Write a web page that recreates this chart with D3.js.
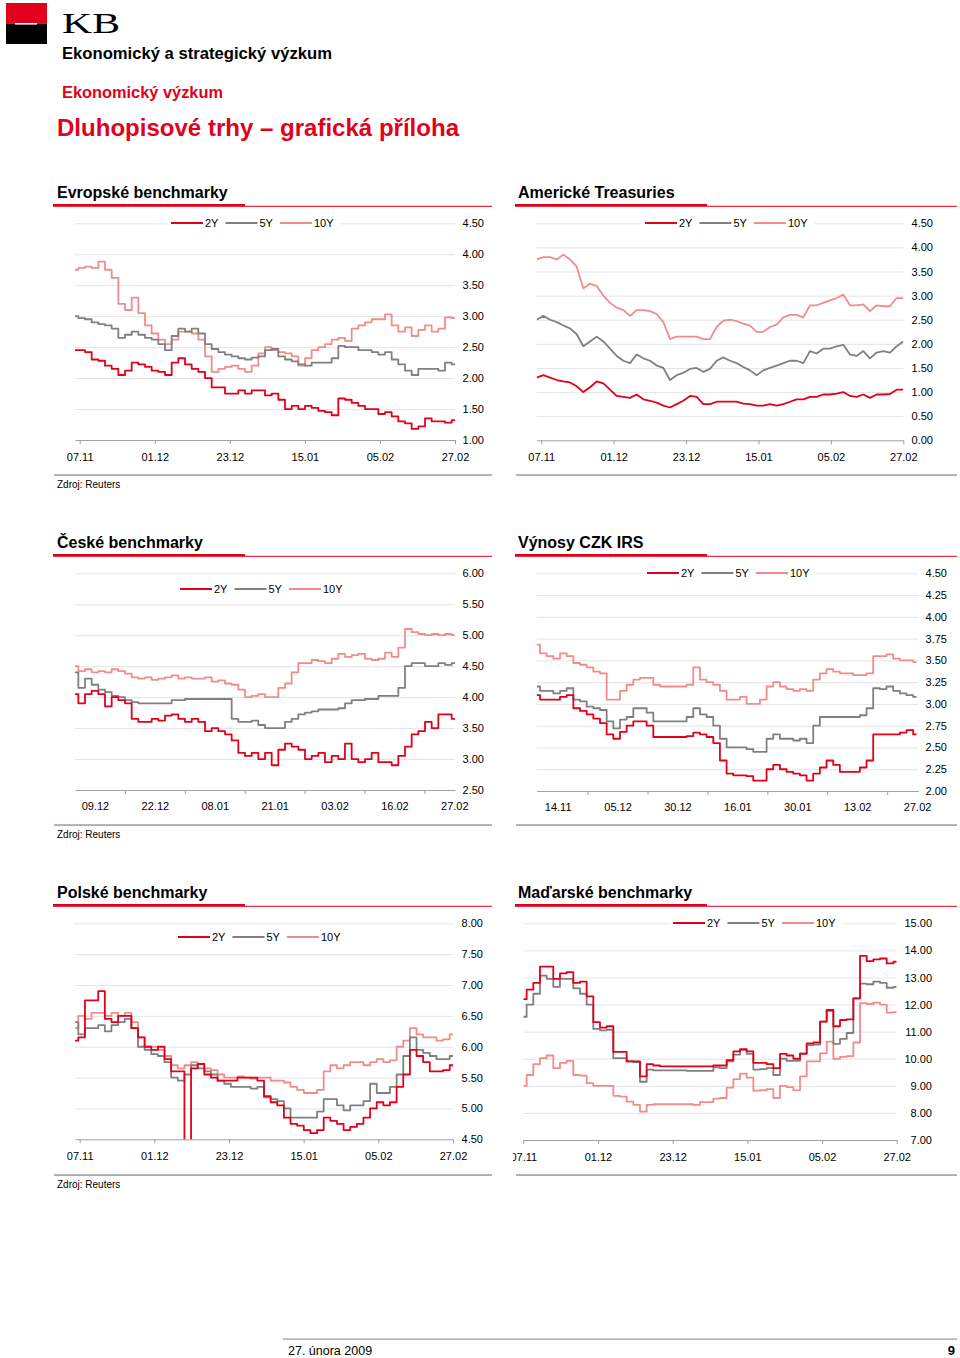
<!DOCTYPE html>
<html><head><meta charset="utf-8">
<script src="https://cdn.jsdelivr.net/npm/d3@7"></script>
<style>body{margin:0;background:#fff;} svg text{font-family:"Liberation Sans",Arial,Helvetica,sans-serif;}</style>
</head><body>
<svg id="page" width="960" height="1358"></svg>
<script>
// ---------- DATA ----------
const seriesNames = ["2Y","5Y","10Y"];
const dates1 = ["07.11","01.12","23.12","15.01","05.02","27.02"];
const datesCz = ["09.12","22.12","08.01","21.01","03.02","16.02","27.02"];
const datesIrs = ["14.11","05.12","30.12","16.01","30.01","13.02","27.02"];

const eurTicks = [1.0,1.5,2.0,2.5,3.0,3.5,4.0,4.5];
const eur2Y = [2.45,2.45,2.42,2.3,2.28,2.2,2.15,2.05,2.12,2.25,2.22,2.18,2.12,2.1,2.05,2.25,2.32,2.22,2.15,2.1,2.0,1.85,1.85,1.75,1.75,1.8,1.75,1.8,1.8,1.72,1.75,1.65,1.5,1.55,1.5,1.55,1.52,1.47,1.45,1.4,1.67,1.65,1.6,1.55,1.5,1.5,1.42,1.45,1.38,1.3,1.27,1.18,1.22,1.35,1.3,1.3,1.28,1.32];
const eur5Y = [3.0,2.97,2.95,2.9,2.87,2.85,2.8,2.65,2.7,2.75,2.7,2.65,2.62,2.55,2.45,2.68,2.8,2.75,2.8,2.72,2.55,2.47,2.42,2.38,2.35,2.32,2.3,2.33,2.35,2.45,2.47,2.35,2.3,2.27,2.22,2.2,2.25,2.25,2.25,2.32,2.52,2.5,2.5,2.45,2.45,2.42,2.38,2.42,2.3,2.22,2.12,2.05,2.15,2.15,2.15,2.12,2.25,2.22];
const eur10Y = [3.75,3.78,3.8,3.78,3.88,3.75,3.62,3.2,3.1,3.3,3.05,2.85,2.72,2.62,2.55,2.62,2.75,2.75,2.72,2.62,2.35,2.1,2.15,2.18,2.2,2.15,2.1,2.2,2.4,2.5,2.45,2.42,2.4,2.35,2.2,2.32,2.45,2.5,2.55,2.62,2.65,2.6,2.8,2.85,2.9,2.95,2.95,3.03,2.85,2.75,2.82,2.68,2.78,2.85,2.75,2.8,2.98,2.97];

const usTicks = [0,0.5,1.0,1.5,2.0,2.5,3.0,3.5,4.0,4.5];
const us2Y = [1.3,1.35,1.3,1.25,1.22,1.2,1.12,1.0,1.1,1.22,1.18,1.05,0.92,0.9,0.88,0.95,0.85,0.82,0.78,0.72,0.68,0.75,0.82,0.92,0.9,0.75,0.75,0.8,0.8,0.8,0.8,0.76,0.75,0.72,0.72,0.75,0.72,0.75,0.8,0.85,0.85,0.9,0.9,0.95,0.95,0.97,1.0,0.92,0.9,0.95,0.88,0.95,0.95,0.96,1.05,1.05];
const us5Y = [2.5,2.58,2.5,2.45,2.38,2.32,2.2,1.95,2.05,2.15,2.05,1.9,1.75,1.65,1.6,1.78,1.7,1.65,1.55,1.5,1.25,1.35,1.4,1.48,1.5,1.42,1.48,1.65,1.72,1.65,1.6,1.52,1.45,1.35,1.45,1.5,1.55,1.6,1.65,1.65,1.6,1.85,1.8,1.9,1.9,1.95,1.98,1.78,1.75,1.85,1.7,1.82,1.85,1.82,1.95,2.05];
const us10Y = [3.75,3.8,3.8,3.75,3.85,3.75,3.6,3.15,3.25,3.2,3.0,2.85,2.75,2.7,2.58,2.7,2.7,2.68,2.62,2.45,2.1,2.15,2.15,2.15,2.15,2.1,2.1,2.35,2.48,2.5,2.47,2.42,2.38,2.25,2.25,2.35,2.4,2.55,2.6,2.6,2.55,2.8,2.8,2.85,2.9,2.95,3.02,2.8,2.8,2.82,2.68,2.8,2.78,2.78,2.95,2.95];

const czTicks = [2.5,3.0,3.5,4.0,4.5,5.0,5.5,6.0];
const cz2Y = [4.05,3.9,4.05,4.1,4.05,3.85,4.0,3.95,3.9,3.65,3.6,3.6,3.65,3.62,3.7,3.72,3.65,3.6,3.65,3.6,3.45,3.5,3.45,3.4,3.3,3.1,3.05,3.1,3.0,3.1,2.9,3.15,3.25,3.2,3.15,3.0,3.05,3.1,2.95,3.05,3.0,3.25,3.0,2.95,3.0,3.1,2.95,2.95,2.9,3.05,3.2,3.4,3.45,3.6,3.5,3.72,3.72,3.65];
const cz5Y = [4.4,4.15,4.3,4.2,4.12,4.08,4.02,4.0,3.95,3.92,3.9,3.9,3.9,3.9,3.9,3.95,3.95,3.97,3.97,3.97,3.97,3.97,3.97,3.97,3.65,3.6,3.6,3.62,3.55,3.5,3.5,3.5,3.6,3.65,3.72,3.75,3.77,3.8,3.8,3.8,3.82,3.9,3.95,3.95,3.97,3.97,4.02,4.02,4.02,4.15,4.5,4.55,4.55,4.5,4.5,4.55,4.52,4.55];
const cz10Y = [4.5,4.42,4.45,4.4,4.42,4.4,4.45,4.42,4.38,4.32,4.3,4.32,4.28,4.3,4.32,4.35,4.3,4.32,4.3,4.3,4.32,4.25,4.27,4.22,4.2,4.12,4.0,4.02,4.05,4.0,4.0,4.15,4.22,4.4,4.55,4.55,4.6,4.58,4.55,4.62,4.7,4.65,4.68,4.7,4.62,4.6,4.62,4.72,4.65,4.8,5.1,5.05,5.02,5.0,5.02,5.0,5.02,5.0];

const irsTicks = [2.0,2.25,2.5,2.75,3.0,3.25,3.5,3.75,4.0,4.25,4.5];
const irs2Y = [3.1,3.05,3.05,3.05,3.08,3.1,2.95,2.92,2.88,2.83,2.78,2.65,2.6,2.68,2.75,2.8,2.8,2.75,2.62,2.62,2.62,2.62,2.62,2.63,2.67,2.65,2.62,2.55,2.35,2.2,2.18,2.18,2.17,2.12,2.12,2.25,2.3,2.25,2.22,2.2,2.18,2.12,2.2,2.27,2.35,2.3,2.22,2.22,2.22,2.27,2.35,2.65,2.65,2.65,2.65,2.67,2.7,2.65];
const irs5Y = [3.2,3.15,3.15,3.12,3.15,3.18,3.05,3.03,2.97,2.95,2.93,2.8,2.72,2.82,2.85,2.95,2.95,2.9,2.8,2.8,2.8,2.8,2.8,2.85,2.95,2.88,2.85,2.75,2.6,2.5,2.5,2.5,2.48,2.45,2.45,2.6,2.65,2.6,2.6,2.58,2.6,2.55,2.75,2.85,2.85,2.85,2.85,2.85,2.85,2.87,2.95,3.18,3.17,3.2,3.15,3.12,3.1,3.08];
const irs10Y = [3.68,3.58,3.55,3.52,3.58,3.55,3.47,3.45,3.42,3.37,3.35,3.05,3.05,3.15,3.22,3.28,3.3,3.3,3.22,3.2,3.2,3.2,3.2,3.22,3.42,3.28,3.25,3.22,3.15,3.05,3.05,3.08,3.0,3.0,3.05,3.2,3.25,3.2,3.17,3.15,3.17,3.15,3.28,3.35,3.4,3.37,3.35,3.35,3.33,3.33,3.35,3.55,3.55,3.57,3.52,3.5,3.5,3.48];

const plTicks = [4.5,5.0,5.5,6.0,6.5,7.0,7.5,8.0];
const pl2Y = [6.1,6.15,6.75,6.75,6.9,6.45,6.4,6.5,6.5,6.3,6.15,6.0,5.95,6.0,5.8,5.6,5.6,4.4,5.65,5.72,5.55,5.5,5.45,5.45,5.45,5.5,5.5,5.5,5.45,5.2,5.1,5.05,4.85,4.75,4.72,4.65,4.6,4.65,4.85,4.8,4.75,4.65,4.7,4.75,4.85,5.0,5.1,5.05,5.1,5.35,5.55,5.95,5.85,5.75,5.6,5.6,5.62,5.7];
const pl5Y = [6.4,6.2,6.3,6.3,6.35,6.25,6.35,6.4,6.45,6.3,6.0,5.95,5.88,5.85,5.75,5.5,5.45,5.55,5.7,5.65,5.6,5.55,5.45,5.4,5.35,5.35,5.35,5.32,5.35,5.18,5.15,5.12,5.0,4.85,4.85,4.85,4.85,4.95,5.15,5.15,5.05,4.97,5.05,5.05,5.12,5.4,5.25,5.25,5.35,5.55,5.85,6.15,5.95,5.9,5.85,5.8,5.8,5.85];
const pl10Y = [6.3,6.5,6.45,6.55,6.55,6.5,6.55,6.5,6.55,6.4,6.15,6.0,6.0,5.95,5.85,5.7,5.65,5.7,5.75,5.72,5.65,5.62,5.55,5.5,5.5,5.52,5.5,5.48,5.5,5.5,5.45,5.45,5.42,5.35,5.3,5.25,5.25,5.3,5.6,5.7,5.65,5.7,5.75,5.75,5.7,5.75,5.8,5.75,5.78,6.0,6.1,6.3,6.2,6.15,6.15,6.1,6.12,6.2];

const huTicks = [7,8,9,10,11,12,13,14,15];
const hu2Y = [12.2,12.55,12.8,13.4,13.4,12.95,13.15,13.2,12.8,12.85,12.3,11.35,11.15,11.2,10.25,10.25,9.9,9.9,9.35,9.8,9.75,9.72,9.72,9.72,9.72,9.72,9.72,9.72,9.72,9.75,9.75,9.95,10.27,10.35,10.27,9.85,9.85,9.8,9.65,10.18,10.12,10.0,10.18,10.57,10.6,11.37,11.8,11.2,11.43,11.45,12.23,13.8,13.6,13.67,13.7,13.52,13.58];
const hu5Y = [11.55,12.0,12.4,13.07,12.95,12.65,12.95,12.95,12.6,12.4,12.0,11.1,11.05,11.07,10.02,10.02,9.9,9.88,9.15,9.6,9.57,9.57,9.57,9.57,9.57,9.55,9.55,9.55,9.55,9.68,9.65,9.9,10.15,10.33,10.18,9.6,9.62,9.65,9.4,10.0,9.92,9.92,10.2,10.5,10.52,11.37,11.77,10.55,10.73,10.95,12.23,12.77,12.75,12.85,12.8,12.62,12.65];
const hu10Y = [9.0,9.4,9.8,10.02,10.12,9.65,9.85,9.92,9.4,9.38,9.1,9.0,9.0,9.0,8.63,8.6,8.42,8.3,8.05,8.3,8.32,8.32,8.32,8.32,8.32,8.32,8.3,8.4,8.4,8.53,8.55,8.93,9.25,9.45,9.3,8.82,8.84,8.88,8.55,9.0,8.95,8.83,9.35,9.9,9.9,10.2,10.63,10.0,10.07,10.1,10.6,12.05,12.02,12.07,12.0,11.7,11.72];

// trading-day positions of the date labels
const days1 = [0,16,32,48,64,80];
const daysCz = [0,9,18,27,36,45,54];
const daysIrs = [0,10,20,30,40,50,60];

// ---------- STYLE / LAYOUT ----------
const RED = "#e2001a", GRAY = "#808080", PINK = "#f28c8c";
const COLORS = [RED, GRAY, PINK];
const svg = d3.select("#page");

// header
svg.append("rect").attr("x",6).attr("y",3).attr("width",41).attr("height",20.5).attr("fill",RED);
svg.append("rect").attr("x",6).attr("y",23.5).attr("width",41).attr("height",20.5).attr("fill","#000");
svg.append("rect").attr("x",15).attr("y",23).attr("width",22).attr("height",1.6).attr("fill","#fff");
svg.append("text").attr("x",62).attr("y",33).attr("font-size",29).attr("textLength",58).attr("lengthAdjust","spacingAndGlyphs")
  .style("font-family","'Liberation Serif','DejaVu Serif',serif").text("KB");
svg.append("text").attr("x",62).attr("y",59).attr("font-size",16).attr("font-weight","bold")
  .attr("textLength",270).attr("lengthAdjust","spacingAndGlyphs").text("Ekonomický a strategický výzkum");
svg.append("text").attr("x",62).attr("y",97.5).attr("font-size",16).attr("font-weight","bold").attr("fill",RED)
  .attr("textLength",161).attr("lengthAdjust","spacingAndGlyphs").text("Ekonomický výzkum");
svg.append("text").attr("x",57).attr("y",135.5).attr("font-size",23).attr("font-weight","bold").attr("fill",RED)
  .attr("textLength",402).attr("lengthAdjust","spacingAndGlyphs").text("Dluhopisové trhy – grafická příloha");

const fmt2 = d3.format(".2f");
const charts = [
  {title:"Evropské benchmarky", col:0, row:0, left:75, right:455, top:223.3, bottom:440,
   yDomain:[1,4.5], yTicks:eurTicks, yLabelX:484, xDomain:[-1,80], span:[-1,80],
   labelDays:days1, labels:dates1, minor:null, series:[eur2Y,eur5Y,eur10Y], legend:[171,223], curve:d3.curveStep},
  {title:"Americké Treasuries", col:1, row:0, left:536.7, right:903.3, top:223.3, bottom:440.3,
   yDomain:[0,4.5], yTicks:usTicks, yLabelX:933, xDomain:[-1,80], span:[-1,80],
   labelDays:days1, labels:dates1, minor:null, series:[us2Y,us5Y,us10Y], legend:[645,223], curve:d3.curveLinear},
  {title:"České benchmarky", col:0, row:1, left:75, right:455, top:573.3, bottom:790,
   yDomain:[2.5,6], yTicks:czTicks, yLabelX:484, xDomain:[-3,54.1], span:[-3,54.1],
   labelDays:daysCz, labels:datesCz, minor:[4.5,13.5,22.5,31.5,40.5,49.5], series:[cz2Y,cz5Y,cz10Y], legend:[180,589], curve:d3.curveStep},
  {title:"Výnosy CZK IRS", col:1, row:1, left:536.7, right:918.3, top:573.3, bottom:791,
   yDomain:[2,4.5], yTicks:irsTicks, yLabelX:947, xDomain:[-3.5,60.2], span:[-3.5,59.9],
   labelDays:daysIrs, labels:datesIrs, minor:[5,15,25,35,45,55], series:[irs2Y,irs5Y,irs10Y], legend:[647,573], curve:d3.curveStep},
  {title:"Polské benchmarky", col:0, row:2, left:75, right:453, top:923.3, bottom:1139.3,
   yDomain:[4.5,8], yTicks:plTicks, yLabelX:483, xDomain:[-1,80], span:[-1,80],
   labelDays:days1, labels:dates1, minor:null, series:[pl2Y,pl5Y,pl10Y], legend:[178,937], curve:d3.curveStep},
  {title:"Maďarské benchmarky", col:1, row:2, left:523.3, right:896.7, top:923.3, bottom:1140,
   yDomain:[7,15], yTicks:huTicks, yLabelX:932, xDomain:[0,80], span:[0,80],
   labelDays:days1, labels:dates1, minor:null, series:[hu2Y,hu5Y,hu10Y], legend:[673,923], curve:d3.curveStep, clipLeft:513}
];

const defs = svg.append("defs");
charts.forEach((c, ci) => {
  const dy = c.row * 350;
  const px = c.col === 0 ? 57 : 518;
  const u0 = c.col === 0 ? 53 : 515, u1 = c.col === 0 ? 245 : 707, u2 = c.col === 0 ? 492 : 957;
  const g = svg.append("g");
  // panel title + red rule
  g.append("text").attr("x",px).attr("y",197.5+dy).attr("font-size",16).attr("font-weight","bold").text(c.title);
  g.append("rect").attr("x",u0).attr("y",204+dy).attr("width",u1-u0).attr("height",2.8).attr("fill",RED);
  g.append("rect").attr("x",u1).attr("y",205.8+dy).attr("width",u2-u1).attr("height",1).attr("fill",RED);
  // bottom rule + source
  g.append("rect").attr("x",u0+1).attr("y",474.3+dy).attr("width",u2-u0-1).attr("height",1.5).attr("fill","#9a9a9a");
  if (c.col === 0) g.append("text").attr("x",57).attr("y",487.5+dy).attr("font-size",10).text("Zdroj: Reuters");

  const x = d3.scaleLinear().domain(c.xDomain).range([c.left, c.right]);
  const y = d3.scaleLinear().domain(c.yDomain).range([c.bottom, c.top]);

  // gridlines
  g.append("g").attr("transform",`translate(${c.left},0)`)
    .call(d3.axisRight(y).tickValues(c.yTicks.slice(1)).tickSize(c.right-c.left).tickFormat(""))
    .call(a => a.select(".domain").remove())
    .call(a => a.selectAll("line").attr("stroke","#e4e4e4").attr("stroke-width",1));
  // y labels
  g.append("g").attr("transform",`translate(${c.yLabelX},0)`)
    .call(d3.axisLeft(y).tickValues(c.yTicks).tickSize(0).tickPadding(0).tickFormat(fmt2))
    .call(a => a.select(".domain").remove())
    .attr("font-family",null).attr("font-size",11)
    .call(a => a.selectAll("text").attr("fill","#000"));

  // x axis
  const xg = g.append("g").attr("transform",`translate(0,${c.bottom})`)
    .call(d3.axisBottom(x).tickValues(c.labelDays).tickFormat((d,i) => c.labels[i])
      .tickSize(c.minor ? 0 : 4).tickSizeOuter(0).tickPadding(c.minor ? 12.5 : 9))
    .attr("font-family",null).attr("font-size",11);
  xg.select(".domain").attr("stroke","#a0a0a0");
  xg.selectAll("line").attr("stroke","#a0a0a0");
  xg.selectAll("text").attr("fill","#000");
  if (c.clipLeft) {
    // clip in the axis group's own (translated) coordinates
    defs.append("clipPath").attr("id","lab"+ci).append("rect")
      .attr("x",c.clipLeft).attr("y",-4).attr("width",500).attr("height",40);
    xg.attr("clip-path",`url(#lab${ci})`);
  }
  if (c.minor) {
    g.append("g").attr("transform",`translate(0,${c.bottom})`)
      .call(d3.axisBottom(x).tickValues(c.minor).tickFormat("").tickSize(4))
      .call(a => a.select(".domain").remove())
      .call(a => a.selectAll("line").attr("stroke","#a0a0a0"));
  }

  // series
  defs.append("clipPath").attr("id","plot"+ci).append("rect")
    .attr("x",c.left).attr("y",c.top-10).attr("width",c.right-c.left).attr("height",c.bottom-c.top+10);
  const sg = g.append("g").attr("clip-path",`url(#plot${ci})`);
  [2,1,0].forEach(j => {
    const vals = c.series[j], n = vals.length;
    const d0 = c.span[0], d1 = c.span[1];
    const line = d3.line().x((v,k) => x(d0 + k*(d1-d0)/(n-1))).y(v => y(v)).curve(c.curve);
    sg.append("path").attr("d", line(vals)).attr("fill","none")
      .attr("stroke", COLORS[j]).attr("stroke-width",1.8).attr("stroke-linejoin","round");
  });

  // legend
  const lg = g.append("g");
  const bg = lg.append("rect").attr("fill","#fff");
  let lx = c.legend[0];
  const ly = c.legend[1];
  seriesNames.forEach((nm,j) => {
    lg.append("line").attr("x1",lx).attr("x2",lx+32).attr("y1",ly).attr("y2",ly)
      .attr("stroke",COLORS[j]).attr("stroke-width",2);
    const t = lg.append("text").attr("x",lx+34).attr("y",ly+4).attr("font-size",11).text(nm);
    lx += 34 + t.node().getComputedTextLength() + 7;
  });
  bg.attr("x",c.legend[0]-4).attr("y",ly-7).attr("width",lx-c.legend[0]+4).attr("height",14);
});

// footer
svg.append("rect").attr("x",283).attr("y",1338.5).attr("width",674).attr("height",1.2).attr("fill","#9a9a9a");
svg.append("text").attr("x",288).attr("y",1355).attr("font-size",12.5).text("27. února 2009");
svg.append("text").attr("x",955).attr("y",1355).attr("font-size",13).attr("font-weight","bold").attr("text-anchor","end").text("9");
</script>
</body></html>
